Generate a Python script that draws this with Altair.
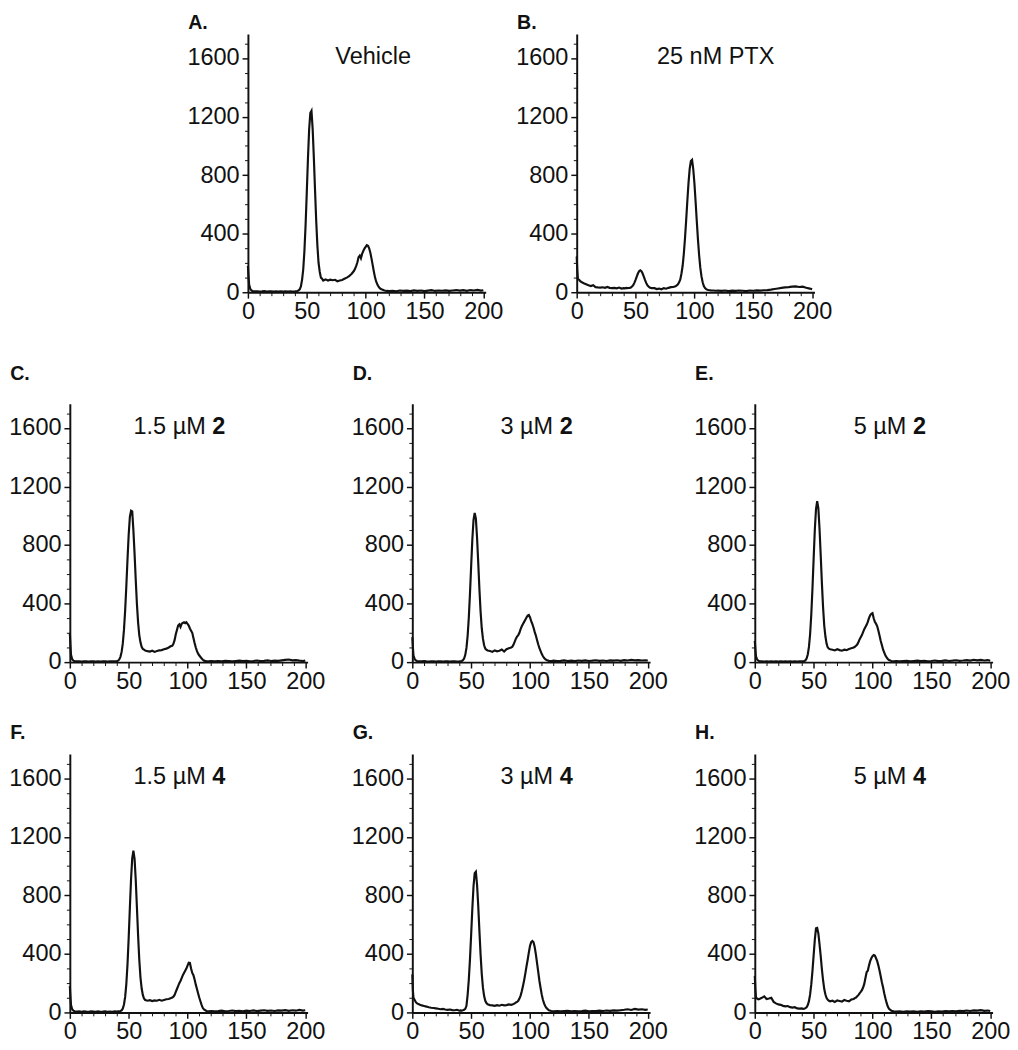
import altair as alt
import pandas as pd

FONT = "Liberation Sans"
INK = "#111111"

# ---- channel grid (DNA content) shared by all histograms ----
X_LEFT = [0, 0.5, 1, 2, 3, 4, 6, 8, 10, 12, 14, 16, 18, 20, 22, 24, 26, 28, 30, 32, 34, 36, 38]
X_G1 = [40, 41, 42, 43, 44, 45, 46, 47, 48, 49, 50, 51, 52, 53, 54, 55, 56, 57, 58, 59, 60, 61, 62, 63, 64]
X_MID = [66, 68, 70, 72, 74, 76, 78, 80, 82, 84]
X_G2 = [85, 86, 87, 88, 89, 90, 91, 92, 93, 94, 95, 96, 97, 98, 99, 100, 101, 102, 103, 104,
        105, 106, 107, 108, 109, 110, 111, 112, 113, 114]
X_RIGHT = [116, 118, 120, 123, 126, 129, 132, 135, 138, 141, 144, 147, 150, 153, 156, 159, 162,
           165, 168, 171, 174, 177, 180, 183, 186, 189, 192, 195, 198, 200]
CHANNEL = X_LEFT + X_G1 + X_MID + X_G2 + X_RIGHT

# ---- counts ----
VEHICLE = (
    [180, 110, 55, 22, 12, 8, 6, 7, 5, 6, 8, 5, 6, 7, 5, 6, 5, 7, 5, 6, 5, 6, 5]
    + [6, 7, 9, 13, 20, 40, 85, 157, 283, 461, 682, 914, 1111, 1225, 1240, 1115, 920, 700, 490, 320, 200, 140, 100, 92, 80]
    + [88, 80, 86, 82, 85, 75, 80, 84, 92, 100]
    + [105, 110, 118, 125, 135, 145, 160, 180, 205, 240, 250, 232, 262, 282, 298, 310, 322, 318, 300, 270, 230, 185, 140, 100, 72, 52, 38, 28, 22, 18]
    + [12, 9, 8, 10, 7, 12, 9, 11, 8, 13, 9, 12, 8, 11, 14, 9, 12, 10, 13, 9, 12, 15, 11, 14, 10, 15, 12, 16, 11, 14]
)
PTX = (
    [245, 150, 92, 85, 75, 70, 62, 55, 48, 42, 48, 35, 33, 32, 34, 30, 36, 30, 28, 30, 27, 32, 25]
    + [28, 27, 30, 28, 29, 30, 33, 39, 49, 64, 84, 107, 128, 144, 150, 144, 128, 107, 84, 64, 49, 39, 33, 30, 28]
    + [28, 22, 25, 20, 28, 24, 30, 35, 36, 41]
    + [46, 54, 68, 88, 128, 181, 263, 369, 493, 625, 749, 844, 897, 905, 842, 745, 620, 487, 361, 253, 168, 108, 68, 43, 28, 21, 17, 15, 14, 13]
    + [12, 10, 11, 9, 12, 8, 11, 9, 12, 10, 8, 12, 10, 13, 11, 14, 15, 18, 22, 26, 30, 33, 35, 38, 40, 36, 38, 31, 25, 20]
)
C2_15 = (
    [200, 120, 50, 20, 10, 7, 5, 6, 4, 5, 6, 4, 5, 6, 4, 5, 4, 6, 5, 4, 5, 6, 5]
    + [7, 10, 18, 36, 70, 128, 222, 354, 520, 703, 871, 992, 1035, 1030, 900, 740, 560, 395, 270, 185, 135, 105, 90, 85, 80]
    + [75, 72, 78, 70, 76, 80, 82, 88, 92, 100]
    + [105, 110, 112, 125, 150, 190, 220, 250, 258, 240, 262, 268, 272, 266, 272, 262, 250, 230, 215, 200, 165, 130, 100, 75, 58, 45, 35, 25, 16, 10]
    + [6, 5, 7, 5, 8, 6, 9, 7, 5, 8, 10, 7, 9, 6, 8, 11, 7, 9, 12, 8, 10, 9, 12, 15, 18, 12, 14, 10, 8, 10]
)
C2_3 = (
    [170, 100, 45, 20, 12, 8, 6, 5, 7, 5, 4, 6, 5, 4, 6, 5, 4, 5, 6, 4, 5, 6, 4]
    + [5, 6, 8, 13, 24, 50, 97, 180, 305, 470, 659, 840, 972, 1020, 980, 850, 680, 500, 345, 230, 160, 115, 92, 84, 80]
    + [76, 70, 80, 74, 78, 86, 72, 88, 95, 100]
    + [105, 120, 140, 160, 175, 185, 200, 225, 245, 260, 275, 290, 305, 318, 322, 305, 280, 260, 235, 205, 180, 150, 120, 95, 75, 55, 40, 28, 20, 14]
    + [9, 8, 10, 7, 9, 12, 8, 10, 7, 11, 9, 12, 8, 10, 13, 9, 11, 8, 12, 10, 13, 9, 14, 11, 15, 12, 14, 11, 13, 10]
)
C2_5 = (
    [145, 90, 40, 18, 10, 6, 5, 4, 6, 4, 5, 3, 5, 4, 6, 4, 5, 3, 5, 4, 6, 4, 5]
    + [5, 6, 8, 12, 25, 52, 104, 192, 327, 505, 710, 905, 1046, 1100, 1050, 910, 730, 540, 375, 250, 175, 125, 100, 92, 88]
    + [85, 80, 88, 82, 78, 85, 82, 90, 95, 100]
    + [105, 112, 120, 135, 155, 170, 185, 205, 225, 240, 255, 275, 300, 320, 330, 335, 300, 275, 262, 245, 215, 180, 145, 115, 85, 65, 45, 32, 22, 14]
    + [8, 6, 8, 5, 7, 9, 6, 8, 10, 7, 9, 6, 8, 11, 7, 9, 12, 8, 10, 13, 9, 11, 14, 10, 16, 12, 15, 11, 14, 9]
)
C4_15 = (
    [180, 110, 50, 22, 12, 8, 6, 7, 5, 8, 6, 5, 7, 6, 5, 7, 5, 6, 8, 5, 6, 5, 7]
    + [6, 7, 8, 10, 14, 27, 54, 106, 195, 330, 510, 715, 910, 1052, 1105, 1050, 905, 715, 525, 360, 240, 165, 120, 95, 85]
    + [80, 84, 78, 82, 80, 86, 80, 85, 90, 92]
    + [95, 98, 102, 108, 120, 140, 160, 180, 200, 215, 235, 255, 270, 285, 300, 320, 340, 338, 300, 270, 255, 225, 190, 160, 130, 100, 75, 50, 30, 20]
    + [10, 8, 10, 7, 9, 12, 8, 10, 13, 9, 11, 8, 12, 10, 14, 9, 12, 15, 11, 13, 10, 14, 12, 16, 11, 15, 12, 17, 13, 15]
)
C4_3 = (
    [260, 150, 100, 85, 70, 62, 55, 48, 44, 40, 35, 32, 30, 28, 25, 22, 24, 20, 18, 20, 16, 15, 18]
    + [12, 14, 13, 15, 18, 24, 45, 120, 225, 366, 534, 711, 862, 951, 961, 872, 728, 557, 395, 262, 169, 112, 79, 64, 55]
    + [50, 48, 45, 50, 46, 52, 48, 50, 55, 52]
    + [55, 58, 62, 68, 72, 80, 95, 115, 145, 180, 220, 265, 315, 360, 410, 455, 480, 488, 480, 445, 395, 335, 275, 215, 165, 120, 85, 60, 42, 30]
    + [15, 10, 8, 10, 7, 9, 11, 8, 10, 7, 9, 12, 8, 10, 9, 12, 10, 13, 11, 14, 12, 15, 18, 22, 17, 24, 19, 22, 18, 20]
)
C4_5 = (
    [250, 160, 100, 95, 90, 92, 100, 110, 92, 95, 100, 72, 62, 55, 52, 45, 42, 44, 36, 33, 36, 28, 26]
    + [28, 24, 25, 29, 35, 50, 77, 123, 193, 284, 392, 497, 575, 578, 540, 465, 385, 295, 220, 160, 122, 98, 86, 80, 76]
    + [80, 72, 82, 78, 74, 85, 80, 76, 88, 92]
    + [98, 102, 110, 118, 130, 140, 152, 170, 195, 235, 275, 285, 320, 350, 370, 385, 392, 388, 370, 350, 320, 285, 245, 205, 170, 130, 95, 65, 40, 25]
    + [12, 8, 6, 7, 5, 8, 6, 7, 5, 8, 6, 9, 7, 5, 8, 6, 9, 7, 10, 8, 11, 9, 13, 10, 14, 12, 16, 11, 13, 10]
)

X_MAJOR = [0, 50, 100, 150, 200]
X_MINOR = [10, 20, 30, 40, 60, 70, 80, 90, 110, 120, 130, 140, 160, 170, 180, 190]
Y_MAJOR = [0, 400, 800, 1200, 1600]
Y_MINOR = [100, 200, 300, 500, 600, 700, 900, 1000, 1100, 1300, 1400, 1500, 1700]

W, H = 243, 264
TXT = 24
SPACE = 6.7
BOLD_DIGIT = 13.3
REG_WIDTH = {"1.5 µM": 73.8, "3 µM": 53.8, "5 µM": 53.8}
TEXT_Y = 31


def text_layer(s, x, y, size=TXT, bold=False, align="center", baseline="alphabetic"):
    return alt.Chart(pd.DataFrame({"t": [s]})).mark_text(
        font=FONT, fontSize=size, fontWeight="bold" if bold else "normal",
        align=align, baseline=baseline, color=INK,
    ).encode(text="t:N", x=alt.value(x), y=alt.value(y))


def panel(letter, counts, normal, bold, center, letter_gap):
    assert len(counts) == len(CHANNEL)
    df = pd.DataFrame({"channel": CHANNEL, "count": counts})
    xs = alt.Scale(domain=[0, 202], nice=False, zero=False)
    ys = alt.Scale(domain=[0, 1765], nice=False)
    line = alt.Chart(df).mark_line(color=INK, strokeWidth=2.2).encode(
        x=alt.X("channel:Q", scale=xs, axis=alt.Axis(
            values=X_MAJOR, orient="bottom", title=None, tickSize=6, labelPadding=2,
            labelFlush=False, labelOverlap=False, format="d")),
        y=alt.Y("count:Q", scale=ys, axis=alt.Axis(
            values=Y_MAJOR, orient="left", title=None, tickSize=6, labelPadding=3,
            labelFlush=False, labelOverlap=False, format="d")),
    )
    minor = alt.Chart(df).mark_point(opacity=0).encode(
        x=alt.X("channel:Q", scale=xs, axis=alt.Axis(
            values=X_MINOR, orient="bottom", title=None, labels=False, domain=False,
            tickSize=3.5, tickWidth=1)),
        y=alt.Y("count:Q", scale=ys, axis=alt.Axis(
            values=Y_MINOR, orient="left", title=None, labels=False, domain=False,
            tickSize=3.5, tickWidth=1)),
    )
    layers = [line, minor]
    if bold:
        wn = REG_WIDTH[normal]
        total = wn + SPACE + BOLD_DIGIT
        x0 = center - total / 2
        layers.append(text_layer(normal, x0, TEXT_Y, align="left"))
        layers.append(text_layer(bold, x0 + wn + SPACE, TEXT_Y, bold=True, align="left"))
    else:
        layers.append(text_layer(normal, center, TEXT_Y))
    layers.append(text_layer(letter, -61, -letter_gap, size=20, bold=True,
                             align="left", baseline="top"))
    return alt.layer(*layers).resolve_axis(x="independent", y="independent").properties(
        width=W, height=H)


A = panel("A.", VEHICLE, "Vehicle", None, 128, 21)
B = panel("B.", PTX, "25 nM PTX", None, 142, 21)
C = panel("C.", C2_15, "1.5 µM", "2", 112, 40)
D = panel("D.", C2_3, "3 µM", "2", 127, 40)
E = panel("E.", C2_5, "5 µM", "2", 138, 40)
F = panel("F.", C4_15, "1.5 µM", "4", 112, 31)
G = panel("G.", C4_3, "3 µM", "4", 127, 31)
Hh = panel("H.", C4_5, "5 µM", "4", 138, 31)

row1 = alt.hconcat(A, B, spacing=12)
row2 = alt.hconcat(C, D, E, spacing=26)
row3 = alt.hconcat(F, G, Hh, spacing=26)
lower = alt.vconcat(row2, row3, spacing=31)

chart = alt.vconcat(row1, lower, spacing=42, center=True).properties(
    padding={"left": 0, "top": -6, "right": 0, "bottom": 0}
).configure_view(stroke=None).configure_axis(
    domainColor=INK, domainWidth=2, tickColor=INK, tickWidth=1.5,
    labelFont=FONT, labelFontSize=24, labelColor=INK, grid=False,
)

chart.save("out.html", embed_options={"renderer": "svg", "actions": False})
